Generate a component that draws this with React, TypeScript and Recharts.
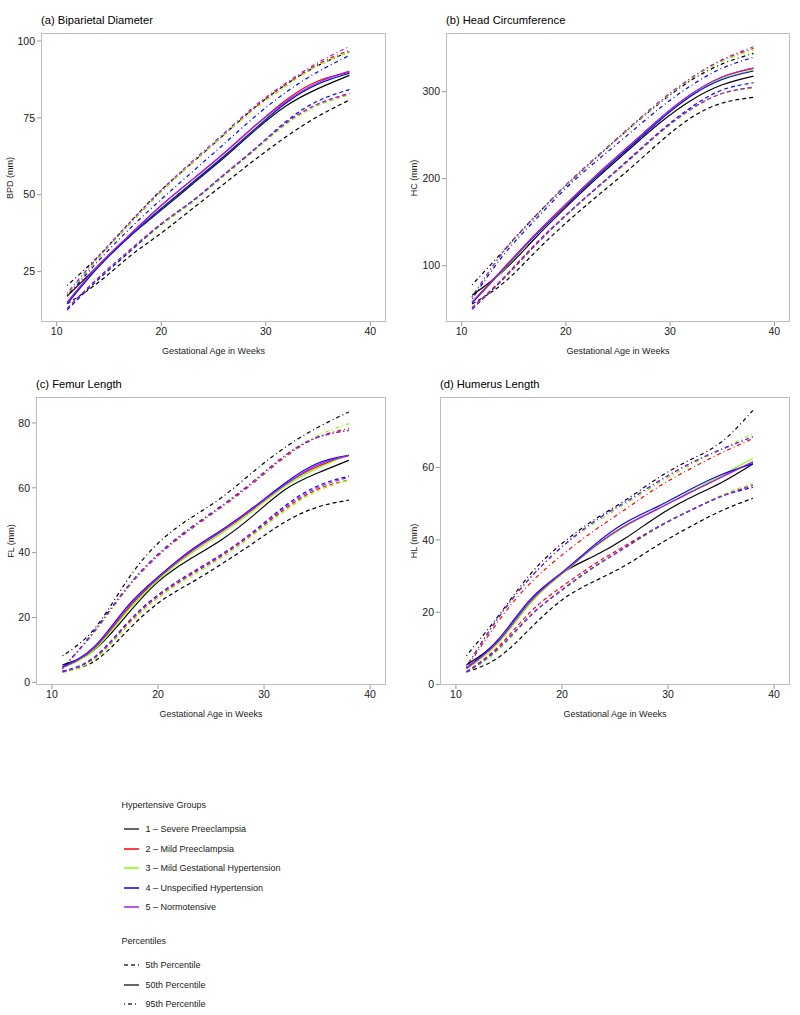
import React from 'react';
import { LineChart, Line, XAxis, YAxis } from 'recharts';

const FONT = '"Liberation Sans", Arial, Helvetica, sans-serif';

// Gestational age (weeks) at which the curves are read
const weeks = [11, 14, 17, 20, 23, 26, 29, 32, 35, 38];

const groupNames = [
  '1 – Severe Preeclampsia',
  '2 – Mild Preeclampsia',
  '3 – Mild Gestational Hypertension',
  '4 – Unspecified Hypertension',
  '5 – Normotensive',
];
const groupColors = ['#000000', '#ff0000', '#7fff00', '#0000ff', '#a020f0'];
const percentileNames = ['5th Percentile', '50th Percentile', '95th Percentile'];

// (a) Biparietal diameter, rows = groups 1..5
const bpdP5 = [
  [14.5, 21.5, 30, 37.5, 45.5, 53.5, 61.5, 69, 75.5, 80.8],
  [13, 23, 32, 40.5, 48, 56.5, 65, 73.5, 79.5, 83],
  [13, 22.5, 31.5, 40, 47.5, 56, 64.5, 73, 79, 82.5],
  [12.5, 22.5, 31.5, 40.5, 48, 56.5, 65, 74, 80.5, 84.2],
  [13, 23, 32, 40.5, 48, 56.5, 65, 73.5, 79.5, 82.8],
];
const bpdP50 = [
  [17, 27, 36.5, 45, 53.5, 62, 71, 79, 84.5, 88.8],
  [15, 27, 37, 46.5, 55, 63.5, 72.5, 81, 87, 89.8],
  [14.5, 26.5, 36.5, 45.5, 54, 62.5, 71.5, 80, 86, 89.5],
  [14.5, 26.5, 36.5, 45.5, 54, 62.5, 71.5, 80, 86, 89.5],
  [15, 27, 37, 46.5, 55, 63.5, 72.5, 80.5, 86.5, 90.2],
];
const bpdP95 = [
  [20.5, 30, 41, 51.5, 60.5, 69.5, 78.5, 86, 92, 96.5],
  [17.5, 29.5, 40.5, 51, 60.5, 69.5, 78.5, 86, 92.5, 97],
  [17.5, 29.5, 40.5, 51, 60.5, 69.5, 78, 85.5, 92, 96.5],
  [17, 28.5, 39, 48.5, 57.5, 66.5, 75.5, 83.5, 90, 95.3],
  [18, 30, 41, 51.5, 61, 70, 79, 86.5, 93, 98.2],
];

// (b) Head circumference
const hcP5 = [
  [56, 80, 115, 149, 180, 210, 242, 270, 287, 293.5],
  [52, 86, 124, 158, 190, 221, 253, 280, 298, 305],
  [51, 84, 122, 157, 189, 220, 252, 279, 298, 304],
  [50, 85, 123, 158, 190, 222, 254, 282, 302, 310.3],
  [51, 85, 123, 158, 190, 221, 253, 280, 298, 305],
];
const hcP50 = [
  [66, 94, 131, 167, 201, 233, 264, 290, 308, 318],
  [58, 97, 135, 171, 205, 237, 269, 297, 317, 326.8],
  [58, 95, 134, 170, 204, 236, 268, 296, 315, 325],
  [57, 96, 134, 169, 203, 235, 267, 295, 314, 323.8],
  [58, 96, 135, 170, 205, 237, 269, 297, 317, 327.6],
];
const hcP95 = [
  [78, 117, 156, 192, 225, 257, 287, 313, 332, 344],
  [64, 116, 156, 192, 225, 257, 288, 315, 336, 349.8],
  [64, 115, 155, 192, 225, 257, 288, 315, 335, 347.9],
  [62, 112, 152, 189, 221, 251, 281, 307, 327, 339.5],
  [64, 116, 156, 193, 226, 258, 289, 316, 337, 351.7],
];

// (c) Femur length
const flP5 = [
  [3.5, 6.5, 15.5, 24.4, 30.5, 36.5, 43, 49.5, 54, 56.2],
  [3.2, 7.5, 17.5, 26.5, 33, 39, 46, 53.5, 59.5, 62.4],
  [3, 7, 17, 26, 32.5, 38.5, 45.5, 53, 59, 62.4],
  [3.3, 7.8, 18, 27, 33.5, 39.5, 46.5, 54.5, 60.5, 63.6],
  [3.3, 7.6, 17.8, 26.8, 33.3, 39.3, 46.3, 54, 60, 63.2],
];
const flP50 = [
  [5.4, 10, 20.5, 31, 38, 44, 51.5, 59.5, 64.5, 68.5],
  [4.8, 10.5, 22, 32, 40, 46.5, 53.5, 61, 66.5, 70],
  [4.5, 10, 21.5, 31.5, 39.5, 46, 53, 60.5, 66, 70.2],
  [4.8, 11, 23, 32.5, 40.5, 47, 54, 61.5, 67.5, 70],
  [4.6, 10.7, 22.5, 32.2, 40.2, 46.7, 53.7, 61, 67, 70],
];
const flP95 = [
  [8.2, 16.5, 31, 42.9, 50.5, 57, 65, 72.5, 78.5, 83.4],
  [4.5, 15.5, 28.5, 39, 47, 54, 61.5, 69.5, 75.5, 78.3],
  [4.5, 15.5, 28.5, 39.5, 47.5, 54.5, 62, 70, 76, 79.8],
  [4.2, 16, 29, 39.5, 47.5, 54.5, 62, 70, 75.5, 77.7],
  [4.2, 15.7, 28.8, 39.3, 47.3, 54.3, 62, 70, 75.5, 77.7],
];

// (d) Humerus length
const hlP5 = [
  [3.5, 7.5, 15.5, 23.4, 28.5, 33, 38.5, 43.5, 48, 51.5],
  [3.6, 10.5, 20, 27.1, 33.2, 38.5, 43.5, 48, 52, 55.1],
  [3.4, 9.5, 18.8, 26, 32.3, 37.8, 43.2, 48, 52.3, 55.6],
  [3.5, 10, 19, 26.2, 32.5, 38, 43.5, 48, 52, 54.5],
  [3.5, 10, 19, 26.2, 32.5, 38, 43.5, 48, 52, 55.1],
];
const hlP50 = [
  [5.5, 12, 22.5, 30.8, 35.5, 40.5, 46.5, 51.5, 55.8, 61],
  [4.5, 12, 23, 30.8, 38, 44, 48.5, 53, 57.3, 61.6],
  [4.3, 11.5, 22.5, 30.5, 37.8, 43.8, 48.5, 53.2, 57.8, 62.5],
  [4.6, 12.5, 23.5, 31, 38.5, 44.8, 49.2, 53.8, 58, 61.1],
  [4.5, 12, 23, 30.8, 38, 44, 48.5, 53, 57.3, 61.6],
];
const hlP95 = [
  [8, 19, 30.5, 39, 45.5, 51, 57, 62, 67, 75.8],
  [4.5, 17.5, 28, 35.8, 42.5, 48.5, 54.5, 59.5, 64, 68],
  [5, 18.5, 29.5, 38, 44.5, 50, 55.5, 60.5, 65, 69.4],
  [5, 18.5, 29.5, 38.1, 45, 50.5, 56, 61, 65, 68.5],
  [5, 18.5, 29.5, 38.1, 45, 50.5, 56, 61, 65, 68.5],
];

const DASH_5 = '4 3';
const DASH_95 = '1 3 4 3';

type PanelProps = {
  left: number;
  top: number;
  width: number;
  height: number;
  yWidth: number;
  marginTop: number;
  marginRight: number;
  marginBottom: number;
  yDomain: [number, number];
  yTicks: number[];
  title: string;
  yLabel: string;
  titleY: number;
  xLabelY: number;
  yLabelX: number;
  p5: number[][];
  p50: number[][];
  p95: number[][];
};

function Panel(props: PanelProps) {
  const {
    left, top, width, height, yWidth, marginTop, marginRight, marginBottom,
    yDomain, yTicks, title, yLabel, titleY, xLabelY, yLabelX, p5, p50, p95,
  } = props;
  const X_H = 30;
  const rows = weeks.map((w, i) => {
    const r: Record<string, number> = { week: w };
    groupColors.forEach((_, g) => {
      r[`p5_${g}`] = p5[g][i];
      r[`p50_${g}`] = p50[g][i];
      r[`p95_${g}`] = p95[g][i];
    });
    return r;
  });
  const plotLeft = yWidth;
  const plotRight = width - marginRight;
  const plotTop = marginTop;
  const plotBottom = height - marginBottom - X_H;

  const lines: React.ReactNode[] = [];
  const specs: [string, string | undefined][] = [
    ['p5', DASH_5],
    ['p95', DASH_95],
    ['p50', undefined],
  ];
  specs.forEach(([p, dash]) => {
    groupColors.forEach((c, g) => {
      lines.push(
        <Line
          key={`${p}_${g}`}
          dataKey={`${p}_${g}`}
          type="natural"
          stroke={c}
          strokeWidth={1.2}
          strokeDasharray={dash}
          dot={false}
          activeDot={false}
          isAnimationActive={false}
        />
      );
    });
  });

  const tickStyle = { fontSize: 10.5, fill: '#1a1a1a', fontFamily: FONT };

  return (
    <div style={{ position: 'absolute', left, top, width, height }}>
      <LineChart
        width={width}
        height={height}
        data={rows}
        margin={{ top: marginTop, right: marginRight, bottom: marginBottom, left: 0 }}
      >
        <XAxis
          dataKey="week"
          type="number"
          domain={[8.5, 41.5]}
          ticks={[10, 20, 30, 40]}
          allowDataOverflow
          axisLine={false}
          tickLine={{ stroke: '#999999' }}
          tickSize={4}
          tickMargin={2}
          height={X_H}
          tick={tickStyle}
        />
        <YAxis
          type="number"
          domain={yDomain}
          ticks={yTicks}
          allowDataOverflow
          axisLine={false}
          tickLine={{ stroke: '#999999' }}
          tickSize={4}
          tickMargin={2}
          width={yWidth}
          tick={tickStyle}
        />
        {lines}
      </LineChart>
      <div
        style={{
          position: 'absolute',
          left: plotLeft,
          top: plotTop,
          width: plotRight - plotLeft,
          height: plotBottom - plotTop,
          boxSizing: 'border-box',
          border: '1px solid #bdbdbd',
          pointerEvents: 'none',
        }}
      />
      <div
        style={{
          position: 'absolute',
          left: plotLeft,
          top: titleY - 7,
          fontSize: 11.2,
          lineHeight: '14px',
          fontFamily: FONT,
          color: '#000',
          whiteSpace: 'nowrap',
        }}
      >
        {title}
      </div>
      <div
        style={{
          position: 'absolute',
          left: (plotLeft + plotRight) / 2,
          top: xLabelY,
          transform: 'translate(-50%, -50%)',
          fontSize: 9,
          lineHeight: '11px',
          fontFamily: FONT,
          color: '#1a1a1a',
          whiteSpace: 'nowrap',
        }}
      >
        Gestational Age in Weeks
      </div>
      <div
        style={{
          position: 'absolute',
          left: yLabelX,
          top: (plotTop + plotBottom) / 2,
          transform: 'translate(-50%, -50%) rotate(-90deg)',
          fontSize: 9,
          lineHeight: '11px',
          fontFamily: FONT,
          color: '#1a1a1a',
          whiteSpace: 'nowrap',
        }}
      >
        {yLabel}
      </div>
    </div>
  );
}

function LegendRow({ y, color, dash, label }: { y: number; color: string; dash?: string; label: string }) {
  return (
    <>
      <svg style={{ position: 'absolute', left: 122, top: y - 3 }} width={20} height={6}>
        <line x1={2} y1={3} x2={17} y2={3} stroke={color} strokeWidth={1.5} strokeDasharray={dash} />
      </svg>
      <div
        style={{
          position: 'absolute',
          left: 145.5,
          top: y - 6,
          fontSize: 9,
          lineHeight: '12px',
          fontFamily: FONT,
          color: '#1a1a1a',
          whiteSpace: 'nowrap',
        }}
      >
        {label}
      </div>
    </>
  );
}

function Legend() {
  const groupYs = [829.3, 849, 868.3, 887.7, 907];
  const pctYs = [965.3, 984.7, 1004];
  const pctDash = [DASH_5, undefined, DASH_95];
  const head = (text: string, y: number) => (
    <div
      style={{
        position: 'absolute',
        left: 121.5,
        top: y - 6,
        fontSize: 9,
        lineHeight: '12px',
        fontFamily: FONT,
        color: '#1a1a1a',
        whiteSpace: 'nowrap',
      }}
    >
      {text}
    </div>
  );
  return (
    <>
      {head('Hypertensive Groups', 805)}
      {groupNames.map((n, i) => (
        <LegendRow key={n} y={groupYs[i]} color={i === 0 ? '#333333' : groupColors[i]} label={n} />
      ))}
      {head('Percentiles', 941)}
      {percentileNames.map((n, i) => (
        <LegendRow key={n} y={pctYs[i]} color="#333333" dash={pctDash[i]} label={n} />
      ))}
    </>
  );
}

export default function App() {
  return (
    <div
      style={{
        position: 'absolute',
        left: 0,
        top: 0,
        width: 800,
        height: 1015,
        background: '#ffffff',
        overflow: 'hidden',
      }}
    >
      <Panel
        left={0} top={0} width={400} height={370}
        yWidth={41} marginTop={33} marginRight={14} marginBottom={18}
        yDomain={[8.6, 102.6]} yTicks={[25, 50, 75, 100]}
        title="(a) Biparietal Diameter" yLabel="BPD (mm)"
        titleY={20} xLabelY={351} yLabelX={10}
        p5={bpdP5} p50={bpdP50} p95={bpdP95}
      />
      <Panel
        left={400} top={0} width={400} height={370}
        yWidth={46} marginTop={33} marginRight={10} marginBottom={18}
        yDomain={[35.3, 367.5]} yTicks={[100, 200, 300]}
        title="(b) Head Circumference" yLabel="HC (mm)"
        titleY={20} xLabelY={351} yLabelX={14}
        p5={hcP5} p50={hcP50} p95={hcP95}
      />
      <Panel
        left={0} top={370} width={400} height={360}
        yWidth={36} marginTop={27} marginRight={14} marginBottom={15}
        yDomain={[-0.8, 88]} yTicks={[0, 20, 40, 60, 80]}
        title="(c) Femur Length" yLabel="FL (mm)"
        titleY={14} xLabelY={344} yLabelX={11}
        p5={flP5} p50={flP50} p95={flP95}
      />
      <Panel
        left={400} top={370} width={400} height={360}
        yWidth={40} marginTop={27} marginRight={10} marginBottom={15}
        yDomain={[-0.1, 79.5]} yTicks={[0, 20, 40, 60]}
        title="(d) Humerus Length" yLabel="HL (mm)"
        titleY={14} xLabelY={344} yLabelX={14}
        p5={hlP5} p50={hlP50} p95={hlP95}
      />
      <Legend />
    </div>
  );
}
